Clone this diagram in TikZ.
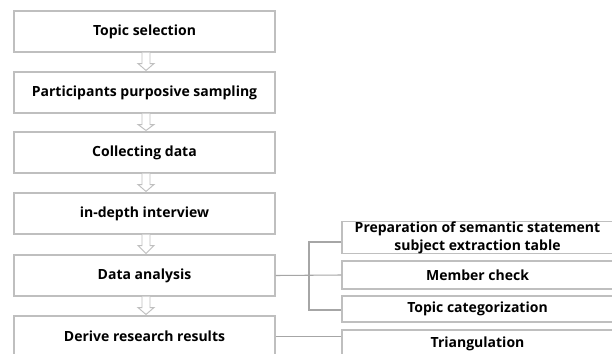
\documentclass[tikz,border=0pt]{standalone}
\usepackage{fontspec}
\setmainfont{Open Sans}
\usetikzlibrary{calc}
\definecolor{boxgray}{HTML}{BFBFBF}
\definecolor{linegray}{HTML}{A6A6A6}
\tikzset{
  px/.style={x=0.75pt,y=-0.75pt},
  flowbox/.style={draw=boxgray, line width=0.8pt, fill=white, minimum width=195.75pt, minimum height=30.75pt, inner sep=0pt, font=\bfseries\fontsize{10.5pt}{13.5pt}\selectfont, align=center, text=black},
  sidebox/.style={draw=boxgray, line width=0.8pt, fill=white, minimum width=203.25pt, inner sep=0pt, font=\bfseries\fontsize{10.5pt}{13.5pt}\selectfont, align=center, text=black},
  hollow/.style={draw=boxgray, line width=0.7pt, fill=white, line join=miter},
  conn/.style={draw=linegray, line width=0.8pt}
}
\newcommand{\hollowarrow}[2]{%
  \draw[hollow] ($(#1.south)+(-2.5,0)$) -- ($(#1.south)+(-2.5,11)$) -- ($(#1.south)+(-6.5,11)$) -- ($(#2.north)+(1.5,-1)$) -- ($(#1.south)+(9.5,11)$) -- ($(#1.south)+(5.5,11)$) -- ($(#1.south)+(5.5,0)$);}
\begin{document}
\begin{tikzpicture}[px]
\useasboundingbox (0,0) rectangle (612,354);
\clip (0,0) rectangle (612,354);
\fill[white] (0,0) rectangle (612,354);
\node[flowbox] (n1) at (144.5,31.5) {Topic selection};
\node[flowbox] (n2) at (144.5,92.5) {Participants purposive sampling};
\node[flowbox] (n3) at (144.5,152.5) {Collecting data};
\node[flowbox] (n4) at (144.5,213.5) {in-depth interview};
\node[flowbox] (n5) at (144.5,275.5) {Data analysis};
\node[flowbox] (n6) at (144.5,336.5) {Derive research results};
\node[sidebox, minimum height=23.25pt] (r1) at (477.5,237.5) {Preparation of semantic statement\\subject extraction table};
\node[sidebox, minimum height=21pt] (r2) at (477.5,275) {Member check};
\node[sidebox, minimum height=19.5pt] (r3) at (477.5,309) {Topic categorization};
\node[sidebox, minimum height=21pt] (r4) at (477.5,344) {Triangulation};
\hollowarrow{n1}{n2}
\hollowarrow{n2}{n3}
\hollowarrow{n3}{n4}
\hollowarrow{n4}{n5}
\hollowarrow{n5}{n6}
\coordinate (bt) at (309,242);
\coordinate (bb) at (309,310);
\draw[conn] (n5.east) -- (r2.west);
\draw[conn] (bt -| r1.west) -- (bt) -- (bb) -- (bb -| r3.west);
\draw[conn] (n6.east) -- (n6.east -| r4.west);
\end{tikzpicture}
\end{document}
